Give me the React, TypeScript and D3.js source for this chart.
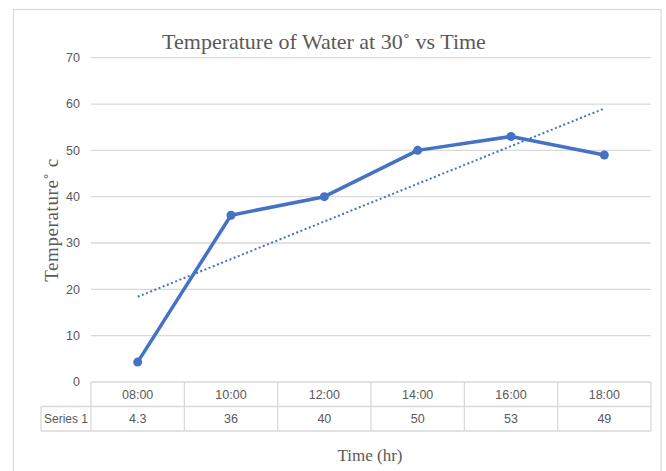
import React from "react";
import * as d3 from "d3";

const categories = ["08:00", "10:00", "12:00", "14:00", "16:00", "18:00"];
const seriesName = "Series 1";
const values = [4.3, 36, 40, 50, 53, 49];
const yTicks = [0, 10, 20, 30, 40, 50, 60, 70];

const W = 666;
const H = 471;
const plot = { left: 91, right: 651, top: 57.7, bottom: 382 };
const BLUE = "#4472C4";
const GRID = "#d9d9d9";
const TXT = "#595959";
const sans = "'Liberation Sans', Arial, sans-serif";
const serif = "'Liberation Serif', 'Times New Roman', serif";

export default function App() {
  const x = d3.scaleBand<string>().domain(categories).range([plot.left, plot.right]).padding(0);
  const y = d3.scaleLinear().domain([0, 70]).range([plot.bottom, plot.top]);
  const cx = (c: string) => (x(c) as number) + x.bandwidth() / 2;

  const pts = categories.map((c, i) => [cx(c), y(values[i])] as [number, number]);
  const line = d3.line<[number, number]>();

  // linear trendline (least squares over index 1..n)
  const n = values.length;
  const xs = values.map((_, i) => i + 1);
  const mx = d3.mean(xs) as number;
  const my = d3.mean(values) as number;
  const sxy = d3.sum(xs.map((xi, i) => (xi - mx) * (values[i] - my)));
  const sxx = d3.sum(xs.map((xi) => (xi - mx) ** 2));
  const slope = sxy / sxx;
  const icpt = my - slope * mx;
  const trend: [number, number][] = [
    [cx(categories[0]), y(icpt + slope * 1)],
    [cx(categories[n - 1]), y(icpt + slope * n)],
  ];

  const row1Top = plot.bottom;
  const row2Top = 406.5;
  const row2Bottom = 431;
  const tableLeft = 41;

  return (
    <svg width={W} height={H} style={{ position: "absolute", left: 0, top: 0, background: "#fff" }}>
      <rect x={0} y={0} width={W} height={H} fill="#fff" />
      <rect x={13.5} y={9.5} width={647.5} height={480} fill="#fff" stroke={GRID} strokeWidth={1.2} />

      <text x={324} y={49} textAnchor="middle" fontFamily={serif} fontSize={22} fill={TXT}>
        Temperature of Water at 30˚ vs Time
      </text>

      {yTicks.map((t) => (
        <g key={t}>
          {t > 0 && (
            <line x1={plot.left} x2={plot.right} y1={y(t)} y2={y(t)} stroke={GRID} strokeWidth={1.3} />
          )}
          <text x={80} y={y(t)} dy="0.35em" textAnchor="end" fontFamily={sans} fontSize={12.5} fill={TXT}>
            {t}
          </text>
        </g>
      ))}

      {/* data table */}
      <g stroke={GRID} strokeWidth={1.3} fill="none">
        <line x1={plot.left} x2={plot.right} y1={row1Top} y2={row1Top} />
        <line x1={tableLeft} x2={plot.right} y1={row2Top} y2={row2Top} />
        <line x1={tableLeft} x2={plot.right} y1={row2Bottom} y2={row2Bottom} />
        <line x1={tableLeft} x2={tableLeft} y1={row2Top} y2={row2Bottom} />
        {categories.map((c) => (
          <line key={c} x1={x(c) as number} x2={x(c) as number} y1={row1Top} y2={row2Bottom} />
        ))}
        <line x1={plot.right} x2={plot.right} y1={row1Top} y2={row2Bottom} />
      </g>
      {categories.map((c, i) => (
        <g key={c} fontFamily={sans} fontSize={12.5} fill={TXT} textAnchor="middle">
          <text x={cx(c)} y={(row1Top + row2Top) / 2} dy="0.35em">{c}</text>
          <text x={cx(c)} y={(row2Top + row2Bottom) / 2} dy="0.35em">{values[i]}</text>
        </g>
      ))}
      <text x={(tableLeft + plot.left) / 2} y={(row2Top + row2Bottom) / 2} dy="0.35em" textAnchor="middle"
        fontFamily={sans} fontSize={12} fill={TXT}>
        {seriesName}
      </text>

      {/* trendline */}
      <path d={line(trend) as string} stroke={BLUE} strokeWidth={2} strokeDasharray="2,2.5" fill="none" />

      {/* series */}
      <path d={line(pts) as string} stroke={BLUE} strokeWidth={3.5} fill="none" strokeLinejoin="round" />
      {pts.map((p, i) => (
        <circle key={i} cx={p[0]} cy={p[1]} r={4.5} fill={BLUE} />
      ))}

      <text x={370} y={461} textAnchor="middle" fontFamily={serif} fontSize={17} fill={TXT}>
        Time (hr)
      </text>
      <text transform={`translate(58,${220}) rotate(-90)`} textAnchor="middle" fontFamily={serif} fontSize={19}
        letterSpacing={0.6} fill={TXT}>
        Temperature˚ c
      </text>
    </svg>
  );
}
